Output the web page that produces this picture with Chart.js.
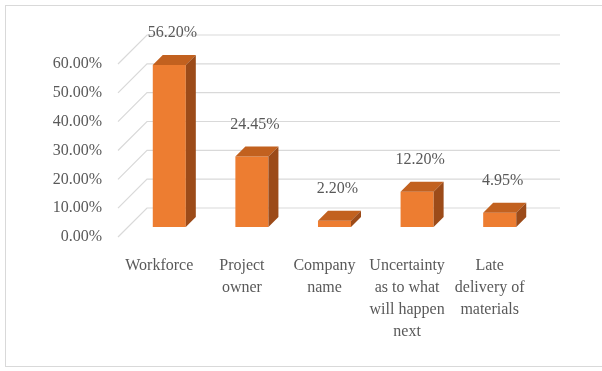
<!DOCTYPE html>
<html>
<head>
<meta charset="utf-8">
<script src="https://cdn.jsdelivr.net/npm/chart.js@4"></script>
<style>
  html, body { margin: 0; padding: 0; background: #ffffff; }
  #wrap { position: relative; width: 602px; height: 371px; overflow: hidden; }
  #frame { position: absolute; left: 5px; top: 5px; width: 640px; height: 362px; border: 1px solid #d9d9d9; box-sizing: border-box; }
  canvas { position: absolute; left: 0; top: 0; }
</style>
</head>
<body>
<div id="wrap">
  <div id="frame"></div>
  <canvas id="c" width="602" height="371"></canvas>
</div>
<script>
// Categories (multi-line labels) and their shares in percent
const categories = [
  ["Workforce"],
  ["Project", "owner"],
  ["Company", "name"],
  ["Uncertainty", "as to what", "will happen", "next"],
  ["Late", "delivery of", "materials"]
];
const shares = [56.20, 24.45, 2.20, 12.20, 4.95];
const yTicks = [0, 10, 20, 30, 40, 50, 60];

// Depth settings for the pseudo-3D look
const BAR_DEPTH = 10;     // bar thickness going back
const FRONT_OFFSET = 10;  // front floor edge sits this far in front of the bars
const BACK_OFFSET = 19;   // back wall sits this far behind the bars' front faces

const FRONT = '#ED7D31';
const TOP = '#C2611F';
const SIDE = '#9C4B19';
const GRID = '#d9d9d9';
const TEXT = '#595959';
const SERIF = '"Liberation Serif", "Times New Roman", serif';

const wallPlugin = {
  id: 'wall',
  beforeDatasetsDraw(chart) {
    const { ctx, chartArea, scales: { y } } = chart;
    ctx.save();
    ctx.strokeStyle = GRID;
    ctx.lineWidth = 1.2;
    yTicks.forEach(v => {
      const p = y.getPixelForValue(v);
      ctx.beginPath();
      ctx.moveTo(chartArea.left - FRONT_OFFSET, p + FRONT_OFFSET);
      ctx.lineTo(chartArea.left + BACK_OFFSET, p - BACK_OFFSET);
      ctx.lineTo(chartArea.right + BACK_OFFSET, p - BACK_OFFSET);
      ctx.stroke();
    });
    ctx.restore();
  },
  afterDatasetsDraw(chart) {
    const { ctx } = chart;
    const meta = chart.getDatasetMeta(0);
    ctx.save();
    meta.data.forEach((bar, i) => {
      const { x, y, base, width } = bar.getProps(['x', 'y', 'base', 'width'], true);
      const l = x - width / 2, r = x + width / 2, d = BAR_DEPTH;
      // top face
      ctx.fillStyle = TOP;
      ctx.beginPath();
      ctx.moveTo(l, y);
      ctx.lineTo(l + d, y - d);
      ctx.lineTo(r + d, y - d);
      ctx.lineTo(r, y);
      ctx.closePath();
      ctx.fill();
      // side face
      ctx.fillStyle = SIDE;
      ctx.beginPath();
      ctx.moveTo(r, y);
      ctx.lineTo(r + d, y - d);
      ctx.lineTo(r + d, base - d);
      ctx.lineTo(r, base);
      ctx.closePath();
      ctx.fill();
      // value label
      ctx.fillStyle = TEXT;
      ctx.font = '16px ' + SERIF;
      ctx.textAlign = 'center';
      ctx.textBaseline = 'middle';
      ctx.fillText(shares[i].toFixed(2) + '%', x + 3, y - 32);
    });
    ctx.restore();
  }
};

new Chart(document.getElementById('c'), {
  type: 'bar',
  data: {
    labels: categories,
    datasets: [{
      data: shares,
      backgroundColor: FRONT,
      borderWidth: 0,
      barPercentage: 0.8,
      categoryPercentage: 0.5
    }]
  },
  options: {
    responsive: false,
    animation: false,
    devicePixelRatio: 1,
    layout: { padding: { left: 52, right: 61, top: 54, bottom: 0 } },
    plugins: { legend: { display: false }, tooltip: { enabled: false } },
    scales: {
      x: {
        grid: { display: false, drawTicks: false },
        border: { display: false },
        afterFit(s) { s.height = 144; },
        ticks: {
          color: TEXT,
          font: { family: SERIF, size: 16, lineHeight: 1.38 },
          padding: 28,
          labelOffset: -FRONT_OFFSET,
          maxRotation: 0,
          autoSkip: false
        }
      },
      y: {
        min: 0,
        max: 60,
        grid: { display: false, drawTicks: false },
        border: { display: false },
        afterFit(s) { s.width = 76; },
        ticks: {
          stepSize: 10,
          color: TEXT,
          font: { family: SERIF, size: 16 },
          padding: 26,
          labelOffset: FRONT_OFFSET,
          callback: v => v.toFixed(2) + '%'
        }
      }
    }
  },
  plugins: [wallPlugin]
});
</script>
</body>
</html>
